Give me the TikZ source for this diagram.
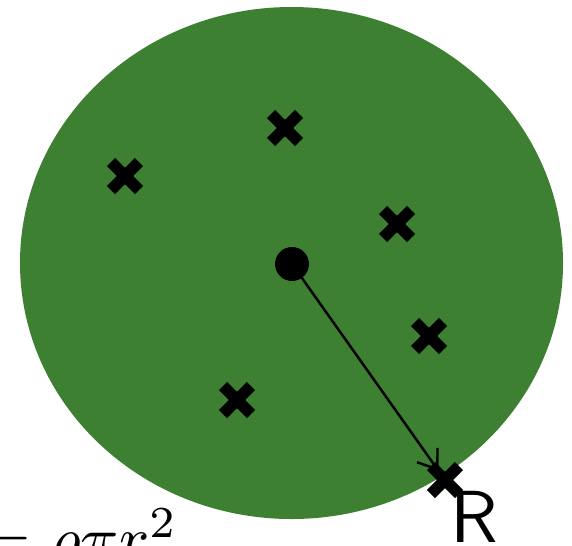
\documentclass[tikz,border=0pt]{standalone}
\usepackage{amsmath, amssymb}
\usetikzlibrary{arrows.meta}

\definecolor{fieldgreen}{RGB}{61,128,50}

\begin{document}
\begin{tikzpicture}[line cap=butt, line join=round]
	\useasboundingbox (0,0) rectangle (11.44,10.9);

	% Kreisfläche
	\fill[fieldgreen] (5.83,5.64) ellipse [x radius=5.43, y radius=5.12];

	% Punkte (Kreuze)
	\foreach \x/\y [count=\i] in {2.50/7.38, 5.70/8.34, 7.94/6.42, 8.58/4.18, 4.74/2.90, 8.90/1.30} {
		\coordinate (p\i) at (\x,\y);
		\draw[line width=0.23cm] (p\i) +(-0.28,-0.28) -- +(0.28,0.28)
			(p\i) +(-0.28,0.28) -- +(0.28,-0.28);
	}

	% Mittelpunkt und Radius
	\node[circle, fill=black, inner sep=0pt, minimum size=0.68cm] (o) at (5.84,5.62) {};
	\draw[line width=1.4pt, -{Straight Barb[length=3.5mm,width=5mm]}, shorten >=0.22cm] (o.center) -- (p6);

	% Beschriftungen
	\node[anchor=base west, inner sep=0pt, scale=4.2] (rlab) at (8.98,0.05) {\sffamily R};
	\node[anchor=base west, inner sep=0pt, scale=3.6] (formel) at (-0.40,-0.30) {$=\rho\pi r^2$};
\end{tikzpicture}
\end{document}
